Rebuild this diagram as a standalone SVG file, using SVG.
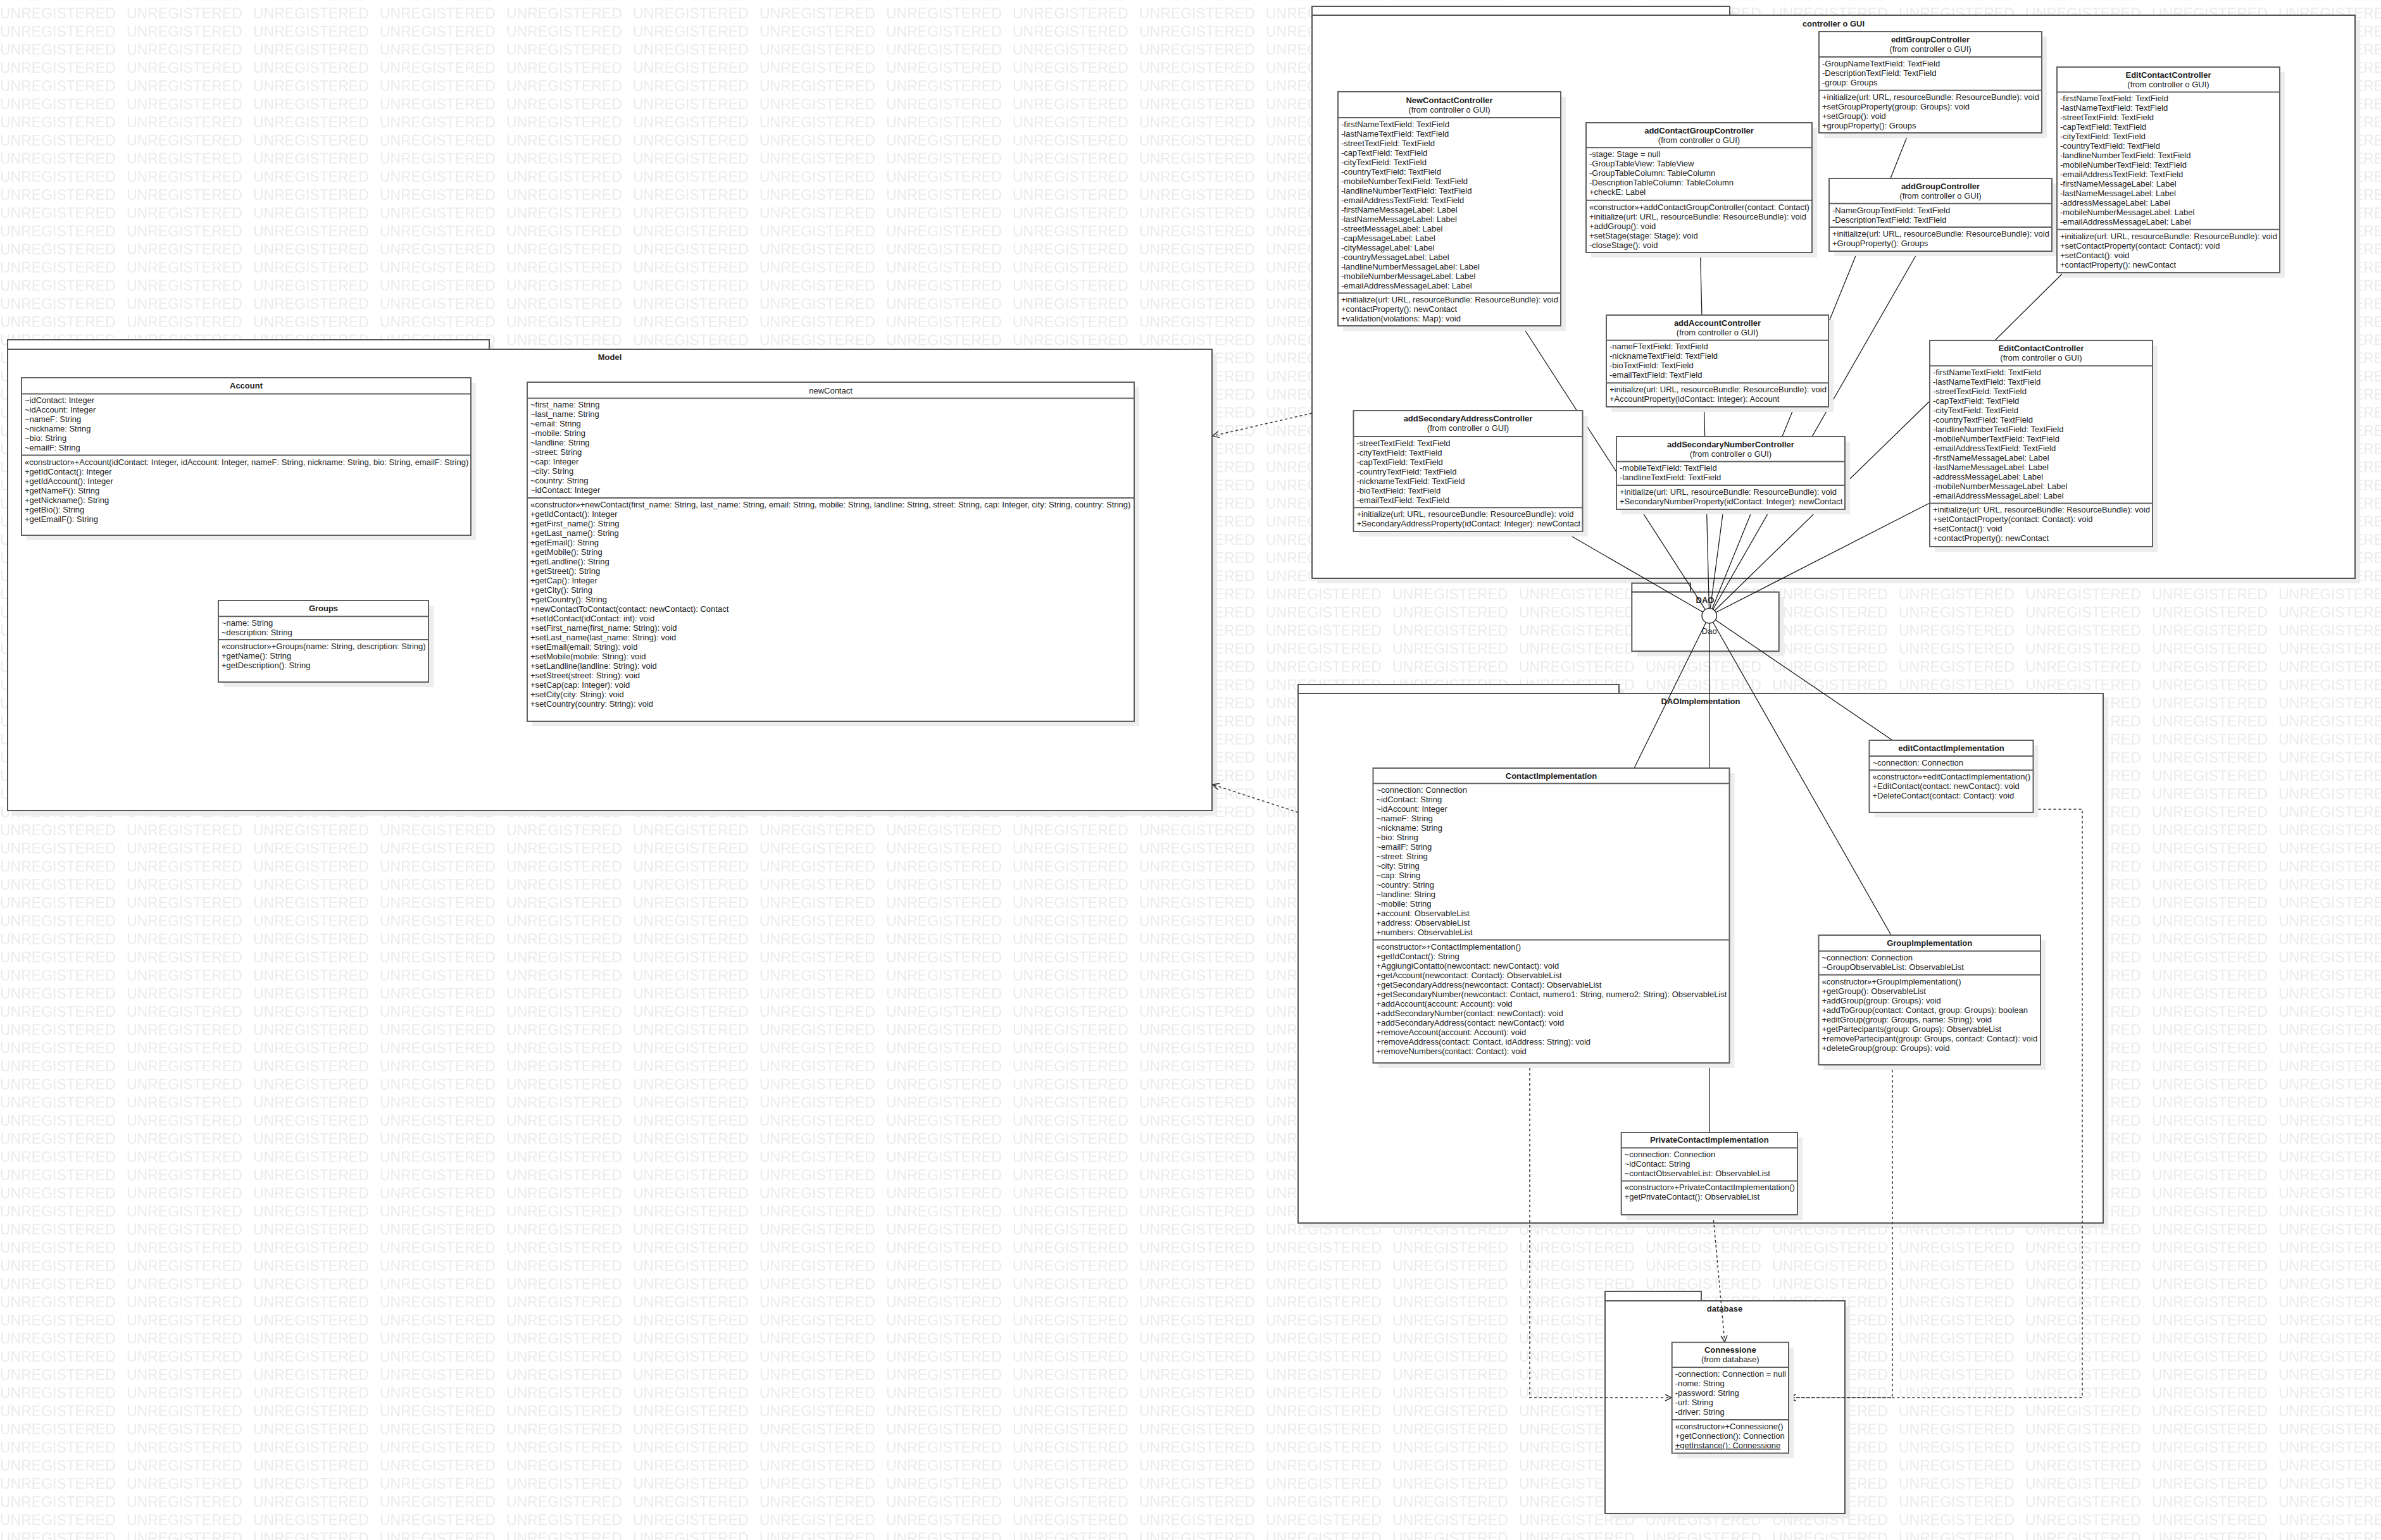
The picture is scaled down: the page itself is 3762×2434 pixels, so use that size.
<svg xmlns="http://www.w3.org/2000/svg" width="3762" height="2434" viewBox="0 0 3762 2434">
<style>
.t{font-family:"Liberation Sans",Arial,sans-serif;font-size:13px;fill:#222}
.b{font-weight:bold}
.c{text-anchor:middle}
.box{fill:#fff;stroke:#606060;stroke-width:2}
.sep{stroke:#606060;stroke-width:2}
.sh{fill:#ededed}
.pk{fill:#fff;stroke:#555;stroke-width:2}
.ln{stroke:#111;stroke-width:1.2;fill:none}
.dep{stroke:#333;stroke-width:1.5;stroke-dasharray:4 4;fill:none;marker-end:url(#open)}
.wm{font-family:"Liberation Sans",Arial,sans-serif;font-size:23px;fill:#ebebeb}
</style>
<defs>
<pattern id="wmark" patternUnits="userSpaceOnUse" x="0" y="5.3" width="200" height="28.69">
<text class="wm" x="0" y="24">UNREGISTERED</text>
</pattern>
<marker id="open" viewBox="0 0 12 12" refX="11" refY="6" markerWidth="12" markerHeight="12" markerUnits="userSpaceOnUse" orient="auto">
<path d="M1,1 L11,6 L1,11" fill="none" stroke="#333" stroke-width="1.5"/>
</marker>
</defs>

<rect width="3762" height="2434" fill="#fff"/>
<rect width="3762" height="2434" fill="url(#wmark)"/>

<!-- packages -->
<g id="pkg-model">
<rect class="sh" x="20" y="545" width="761" height="15"/>
<rect class="sh" x="20" y="560" width="1903" height="729"/>
<rect class="pk" x="12" y="537" width="761" height="15"/>
<rect class="pk" x="12" y="552" width="1903" height="729"/>
<text class="t b c" x="963.5" y="569">Model</text>
</g>
<g id="pkg-controller">
<rect class="sh" x="2081" y="18" width="660" height="14"/>
<rect class="sh" x="2081" y="32" width="1648" height="890"/>
<rect class="pk" x="2073" y="10" width="660" height="14"/>
<rect class="pk" x="2073" y="24" width="1648" height="890"/>
<text class="t b c" x="2897" y="42">controller o GUI</text>
</g>
<g id="pkg-dao">
<rect class="sh" x="2586" y="943.7" width="232.4" height="93.6"/>
<rect class="pk" x="2578.3" y="921.7" width="92.7" height="14"/>
<rect class="pk" x="2578.3" y="935.7" width="232.4" height="93.6"/>
<text class="t b c" x="2694" y="953.3">DAO</text>
</g>
<g id="pkg-daoimpl">
<rect class="sh" x="2059" y="1090" width="507" height="14"/>
<rect class="sh" x="2059" y="1104" width="1272" height="837"/>
<rect class="pk" x="2051" y="1082" width="507" height="14"/>
<rect class="pk" x="2051" y="1096" width="1272" height="837"/>
<text class="t b c" x="2687" y="1113">DAOImplementation</text>
</g>
<g id="pkg-database">
<rect class="sh" x="2544" y="2064" width="379" height="336"/>
<rect class="pk" x="2536" y="2041" width="152" height="15"/>
<rect class="pk" x="2536" y="2056" width="379" height="336"/>
<text class="t b c" x="2725" y="2073.3">database</text>
</g>

<!-- connectors -->
<g id="connectors">
<line class="ln" x1="2405" y1="515" x2="2700.7" y2="973.3"/>
<line class="ln" x1="2470" y1="840" x2="2700.7" y2="973.3"/>
<line class="ln" x1="2686.5" y1="399" x2="2700.7" y2="973.3"/>
<line class="ln" x1="2935" y1="397" x2="2700.7" y2="973.3"/>
<line class="ln" x1="3031" y1="397" x2="2700.7" y2="973.3"/>
<line class="ln" x1="2723" y1="805" x2="2700.7" y2="973.3"/>
<line class="ln" x1="3049" y1="634" x2="2700.7" y2="973.3"/>
<line class="ln" x1="3049" y1="795" x2="2700.7" y2="973.3"/>
<line class="ln" x1="2582" y1="1214" x2="2700.7" y2="973.3"/>
<line class="ln" x1="2701" y1="1790" x2="2701" y2="973.3"/>
<line class="ln" x1="2988" y1="1478" x2="2700.7" y2="973.3"/>
<line class="ln" x1="2990" y1="1170" x2="2700.7" y2="973.3"/>
<line class="ln" x1="3260" y1="431" x2="3152" y2="538"/>
<line class="ln" x1="3015.6" y1="210" x2="2987" y2="282"/>
<path class="dep" d="M2417,1680 V2209 H2641"/>
<path class="dep" d="M2706.7,1920 L2725,2121"/>
<path class="dep" d="M2990,1683 V2209 H2827"/>
<path class="dep" d="M3212.5,1279 H3290 V2209 H2827"/>
<path class="dep" d="M2073,653 L1916,689"/>
<path class="dep" d="M2051,1284 L1916,1240"/>
</g>

<!-- provided interface -->
<g id="Dao">
<circle cx="2700.7" cy="973.3" r="11.7" fill="#fff" stroke="#333" stroke-width="1.5"/>
<text class="t c" x="2700.7" y="1001.7">Dao</text>
</g>

<!-- Model classes -->
<g id="Account">
<rect class="sh" x="42" y="605" width="710" height="249"/>
<rect class="box" x="34" y="597" width="710" height="249"/>
<line class="sep" x1="34" y1="622.5" x2="744" y2="622.5"/>
<line class="sep" x1="34" y1="719.5" x2="744" y2="719.5"/>
<text class="t b c" x="389" y="614">Account</text>
<text class="t"><tspan x="39" y="637">~idContact: Integer</tspan><tspan x="39" dy="15">~idAccount: Integer</tspan><tspan x="39" dy="15">~nameF: String</tspan><tspan x="39" dy="15">~nickname: String</tspan><tspan x="39" dy="15">~bio: String</tspan><tspan x="39" dy="15">~emailF: String</tspan></text>
<text class="t"><tspan x="39" y="734.5">«constructor»+Account(idContact: Integer, idAccount: Integer, nameF: String, nickname: String, bio: String, emailF: String)</tspan><tspan x="39" dy="15">+getIdContact(): Integer</tspan><tspan x="39" dy="15">+getIdAccount(): Integer</tspan><tspan x="39" dy="15">+getNameF(): String</tspan><tspan x="39" dy="15">+getNickname(): String</tspan><tspan x="39" dy="15">+getBio(): String</tspan><tspan x="39" dy="15">+getEmailF(): String</tspan></text>
</g>

<g id="newContact">
<rect class="sh" x="841" y="612" width="959" height="536"/>
<rect class="box" x="833" y="604" width="959" height="536"/>
<line class="sep" x1="833" y1="629.5" x2="1792" y2="629.5"/>
<line class="sep" x1="833" y1="787" x2="1792" y2="787"/>
<text class="t c" x="1312.5" y="622">newContact</text>
<text class="t"><tspan x="838" y="644.2">~first_name: String</tspan><tspan x="838" dy="15">~last_name: String</tspan><tspan x="838" dy="15">~email: String</tspan><tspan x="838" dy="15">~mobile: String</tspan><tspan x="838" dy="15">~landline: String</tspan><tspan x="838" dy="15">~street: String</tspan><tspan x="838" dy="15">~cap: Integer</tspan><tspan x="838" dy="15">~city: String</tspan><tspan x="838" dy="15">~country: String</tspan><tspan x="838" dy="15">~idContact: Integer</tspan></text>
<text class="t"><tspan x="838" y="801.7">«constructor»+newContact(first_name: String, last_name: String, email: String, mobile: String, landline: String, street: String, cap: Integer, city: String, country: String)</tspan><tspan x="838" dy="15">+getIdContact(): Integer</tspan><tspan x="838" dy="15">+getFirst_name(): String</tspan><tspan x="838" dy="15">+getLast_name(): String</tspan><tspan x="838" dy="15">+getEmail(): String</tspan><tspan x="838" dy="15">+getMobile(): String</tspan><tspan x="838" dy="15">+getLandline(): String</tspan><tspan x="838" dy="15">+getStreet(): String</tspan><tspan x="838" dy="15">+getCap(): Integer</tspan><tspan x="838" dy="15">+getCity(): String</tspan><tspan x="838" dy="15">+getCountry(): String</tspan><tspan x="838" dy="15">+newContactToContact(contact: newContact): Contact</tspan><tspan x="838" dy="15">+setIdContact(idContact: int): void</tspan><tspan x="838" dy="15">+setFirst_name(first_name: String): void</tspan><tspan x="838" dy="15">+setLast_name(last_name: String): void</tspan><tspan x="838" dy="15">+setEmail(email: String): void</tspan><tspan x="838" dy="15">+setMobile(mobile: String): void</tspan><tspan x="838" dy="15">+setLandline(landline: String): void</tspan><tspan x="838" dy="15">+setStreet(street: String): void</tspan><tspan x="838" dy="15">+setCap(cap: Integer): void</tspan><tspan x="838" dy="15">+setCity(city: String): void</tspan><tspan x="838" dy="15">+setCountry(country: String): void</tspan></text>
</g>

<g id="Groups">
<rect class="sh" x="353" y="957" width="332" height="129"/>
<rect class="box" x="345" y="949" width="332" height="129"/>
<line class="sep" x1="345" y1="974.3" x2="677" y2="974.3"/>
<line class="sep" x1="345" y1="1011" x2="677" y2="1011"/>
<text class="t b c" x="511" y="966">Groups</text>
<text class="t"><tspan x="350" y="988.5">~name: String</tspan><tspan x="350" dy="15">~description: String</tspan></text>
<text class="t"><tspan x="350" y="1025.7">«constructor»+Groups(name: String, description: String)</tspan><tspan x="350" dy="15">+getName(): String</tspan><tspan x="350" dy="15">+getDescription(): String</tspan></text>
</g>

<!-- controller classes -->
<g id="NewContactController">
<rect class="sh" x="2122" y="153" width="352" height="370"/>
<rect class="box" x="2114" y="145" width="352" height="370"/>
<line class="sep" x1="2114" y1="186" x2="2466" y2="186"/>
<line class="sep" x1="2114" y1="463.3" x2="2466" y2="463.3"/>
<text class="t b c" x="2290" y="162.7">NewContactController</text>
<text class="t c" x="2290" y="177.7">(from controller o GUI)</text>
<text class="t"><tspan x="2119" y="200.7">-firstNameTextField: TextField</tspan><tspan x="2119" dy="15">-lastNameTextField: TextField</tspan><tspan x="2119" dy="15">-streetTextField: TextField</tspan><tspan x="2119" dy="15">-capTextField: TextField</tspan><tspan x="2119" dy="15">-cityTextField: TextField</tspan><tspan x="2119" dy="15">-countryTextField: TextField</tspan><tspan x="2119" dy="15">-mobileNumberTextField: TextField</tspan><tspan x="2119" dy="15">-landlineNumberTextField: TextField</tspan><tspan x="2119" dy="15">-emailAddressTextField: TextField</tspan><tspan x="2119" dy="15">-firstNameMessageLabel: Label</tspan><tspan x="2119" dy="15">-lastNameMessageLabel: Label</tspan><tspan x="2119" dy="15">-streetMessageLabel: Label</tspan><tspan x="2119" dy="15">-capMessageLabel: Label</tspan><tspan x="2119" dy="15">-cityMessageLabel: Label</tspan><tspan x="2119" dy="15">-countryMessageLabel: Label</tspan><tspan x="2119" dy="15">-landlineNumberMessageLabel: Label</tspan><tspan x="2119" dy="15">-mobileNumberMessageLabel: Label</tspan><tspan x="2119" dy="15">-emailAddressMessageLabel: Label</tspan></text>
<text class="t"><tspan x="2119" y="478">+initialize(url: URL, resourceBundle: ResourceBundle): void</tspan><tspan x="2119" dy="15">+contactProperty(): newContact</tspan><tspan x="2119" dy="15">+validation(violations: Map): void</tspan></text>
</g>

<g id="addContactGroupController">
<rect class="sh" x="2514" y="202" width="357" height="205"/>
<rect class="box" x="2506" y="194" width="357" height="205"/>
<line class="sep" x1="2506" y1="233.3" x2="2863" y2="233.3"/>
<line class="sep" x1="2506" y1="316.7" x2="2863" y2="316.7"/>
<text class="t b c" x="2684.5" y="210.7">addContactGroupController</text>
<text class="t c" x="2684.5" y="225.7">(from controller o GUI)</text>
<text class="t"><tspan x="2511" y="248">-stage: Stage = null</tspan><tspan x="2511" dy="15">-GroupTableView: TableView</tspan><tspan x="2511" dy="15">-GroupTableColumn: TableColumn</tspan><tspan x="2511" dy="15">-DescriptionTableColumn: TableColumn</tspan><tspan x="2511" dy="15">+checkE: Label</tspan></text>
<text class="t"><tspan x="2511" y="331.5">«constructor»+addContactGroupController(contact: Contact)</tspan><tspan x="2511" dy="15">+initialize(url: URL, resourceBundle: ResourceBundle): void</tspan><tspan x="2511" dy="15">+addGroup(): void</tspan><tspan x="2511" dy="15">+setStage(stage: Stage): void</tspan><tspan x="2511" dy="15">-closeStage(): void</tspan></text>
</g>

<g id="editGroupController">
<rect class="sh" x="2882" y="58" width="352" height="160"/>
<rect class="box" x="2874" y="50" width="352" height="160"/>
<line class="sep" x1="2874" y1="90" x2="3226" y2="90"/>
<line class="sep" x1="2874" y1="142.7" x2="3226" y2="142.7"/>
<text class="t b c" x="3050" y="66.7">editGroupController</text>
<text class="t c" x="3050" y="81.7">(from controller o GUI)</text>
<text class="t"><tspan x="2879" y="105">-GroupNameTextField: TextField</tspan><tspan x="2879" dy="15">-DescriptionTextField: TextField</tspan><tspan x="2879" dy="15">-group: Groups</tspan></text>
<text class="t"><tspan x="2879" y="157.5">+initialize(url: URL, resourceBundle: ResourceBundle): void</tspan><tspan x="2879" dy="15">+setGroupProperty(group: Groups): void</tspan><tspan x="2879" dy="15">+setGroup(): void</tspan><tspan x="2879" dy="15">+groupProperty(): Groups</tspan></text>
</g>

<g id="addGroupController">
<rect class="sh" x="2898" y="290" width="352" height="115"/>
<rect class="box" x="2890" y="282" width="352" height="115"/>
<line class="sep" x1="2890" y1="321.7" x2="3242" y2="321.7"/>
<line class="sep" x1="2890" y1="359" x2="3242" y2="359"/>
<text class="t b c" x="3066" y="299">addGroupController</text>
<text class="t c" x="3066" y="314">(from controller o GUI)</text>
<text class="t"><tspan x="2895" y="336.5">-NameGroupTextField: TextField</tspan><tspan x="2895" dy="15">-DescriptionTextField: TextField</tspan></text>
<text class="t"><tspan x="2895" y="374">+initialize(url: URL, resourceBundle: ResourceBundle): void</tspan><tspan x="2895" dy="15">+GroupProperty(): Groups</tspan></text>
</g>

<g id="EditContactController">
<rect class="sh" x="3258" y="114" width="352" height="325"/>
<rect class="box" x="3250" y="106" width="352" height="325"/>
<line class="sep" x1="3250" y1="145.4" x2="3602" y2="145.4"/>
<line class="sep" x1="3250" y1="362.7" x2="3602" y2="362.7"/>
<text class="t b c" x="3426" y="123">EditContactController</text>
<text class="t c" x="3426" y="138">(from controller o GUI)</text>
<text class="t"><tspan x="3255" y="160.1">-firstNameTextField: TextField</tspan><tspan x="3255" dy="15">-lastNameTextField: TextField</tspan><tspan x="3255" dy="15">-streetTextField: TextField</tspan><tspan x="3255" dy="15">-capTextField: TextField</tspan><tspan x="3255" dy="15">-cityTextField: TextField</tspan><tspan x="3255" dy="15">-countryTextField: TextField</tspan><tspan x="3255" dy="15">-landlineNumberTextField: TextField</tspan><tspan x="3255" dy="15">-mobileNumberTextField: TextField</tspan><tspan x="3255" dy="15">-emailAddressTextField: TextField</tspan><tspan x="3255" dy="15">-firstNameMessageLabel: Label</tspan><tspan x="3255" dy="15">-lastNameMessageLabel: Label</tspan><tspan x="3255" dy="15">-addressMessageLabel: Label</tspan><tspan x="3255" dy="15">-mobileNumberMessageLabel: Label</tspan><tspan x="3255" dy="15">-emailAddressMessageLabel: Label</tspan></text>
<text class="t"><tspan x="3255" y="377.5">+initialize(url: URL, resourceBundle: ResourceBundle): void</tspan><tspan x="3255" dy="15">+setContactProperty(contact: Contact): void</tspan><tspan x="3255" dy="15">+setContact(): void</tspan><tspan x="3255" dy="15">+contactProperty(): newContact</tspan></text>
</g>

<g id="EditContactController-2">
<rect class="sh" x="3057" y="546" width="352" height="326"/>
<rect class="box" x="3049" y="538" width="352" height="326"/>
<line class="sep" x1="3049" y1="578.2" x2="3401" y2="578.2"/>
<line class="sep" x1="3049" y1="795.5" x2="3401" y2="795.5"/>
<text class="t b c" x="3225" y="555">EditContactController</text>
<text class="t c" x="3225" y="570">(from controller o GUI)</text>
<text class="t"><tspan x="3054" y="592.9">-firstNameTextField: TextField</tspan><tspan x="3054" dy="15">-lastNameTextField: TextField</tspan><tspan x="3054" dy="15">-streetTextField: TextField</tspan><tspan x="3054" dy="15">-capTextField: TextField</tspan><tspan x="3054" dy="15">-cityTextField: TextField</tspan><tspan x="3054" dy="15">-countryTextField: TextField</tspan><tspan x="3054" dy="15">-landlineNumberTextField: TextField</tspan><tspan x="3054" dy="15">-mobileNumberTextField: TextField</tspan><tspan x="3054" dy="15">-emailAddressTextField: TextField</tspan><tspan x="3054" dy="15">-firstNameMessageLabel: Label</tspan><tspan x="3054" dy="15">-lastNameMessageLabel: Label</tspan><tspan x="3054" dy="15">-addressMessageLabel: Label</tspan><tspan x="3054" dy="15">-mobileNumberMessageLabel: Label</tspan><tspan x="3054" dy="15">-emailAddressMessageLabel: Label</tspan></text>
<text class="t"><tspan x="3054" y="810.2">+initialize(url: URL, resourceBundle: ResourceBundle): void</tspan><tspan x="3054" dy="15">+setContactProperty(contact: Contact): void</tspan><tspan x="3054" dy="15">+setContact(): void</tspan><tspan x="3054" dy="15">+contactProperty(): newContact</tspan></text>
</g>

<g id="addAccountController">
<rect class="sh" x="2546" y="506" width="351" height="145"/>
<rect class="box" x="2538" y="498" width="351" height="145"/>
<line class="sep" x1="2538" y1="537.7" x2="2889" y2="537.7"/>
<line class="sep" x1="2538" y1="605.3" x2="2889" y2="605.3"/>
<text class="t b c" x="2713.5" y="515">addAccountController</text>
<text class="t c" x="2713.5" y="530">(from controller o GUI)</text>
<text class="t"><tspan x="2543" y="552.4">-nameFTextField: TextField</tspan><tspan x="2543" dy="15">-nicknameTextField: TextField</tspan><tspan x="2543" dy="15">-bioTextField: TextField</tspan><tspan x="2543" dy="15">-emailTextField: TextField</tspan></text>
<text class="t"><tspan x="2543" y="620.2">+initialize(url: URL, resourceBundle: ResourceBundle): void</tspan><tspan x="2543" dy="15">+AccountProperty(idContact: Integer): Account</tspan></text>
</g>

<g id="addSecondaryAddressController">
<rect class="sh" x="2146.5" y="657" width="362" height="191"/>
<rect class="box" x="2138.5" y="649" width="362" height="191"/>
<line class="sep" x1="2138.5" y1="690" x2="2500.5" y2="690"/>
<line class="sep" x1="2138.5" y1="802.3" x2="2500.5" y2="802.3"/>
<text class="t b c" x="2319.5" y="666">addSecondaryAddressController</text>
<text class="t c" x="2319.5" y="681">(from controller o GUI)</text>
<text class="t"><tspan x="2143.5" y="704.7">-streetTextField: TextField</tspan><tspan x="2143.5" dy="15">-cityTextField: TextField</tspan><tspan x="2143.5" dy="15">-capTextField: TextField</tspan><tspan x="2143.5" dy="15">-countryTextField: TextField</tspan><tspan x="2143.5" dy="15">-nicknameTextField: TextField</tspan><tspan x="2143.5" dy="15">-bioTextField: TextField</tspan><tspan x="2143.5" dy="15">-emailTextField: TextField</tspan></text>
<text class="t"><tspan x="2143.5" y="817">+initialize(url: URL, resourceBundle: ResourceBundle): void</tspan><tspan x="2143.5" dy="15">+SecondaryAddressProperty(idContact: Integer): newContact</tspan></text>
</g>

<g id="addSecondaryNumberController">
<rect class="sh" x="2562" y="698" width="361" height="115"/>
<rect class="box" x="2554" y="690" width="361" height="115"/>
<line class="sep" x1="2554" y1="729.5" x2="2915" y2="729.5"/>
<line class="sep" x1="2554" y1="767" x2="2915" y2="767"/>
<text class="t b c" x="2734.5" y="707">addSecondaryNumberController</text>
<text class="t c" x="2734.5" y="722">(from controller o GUI)</text>
<text class="t"><tspan x="2559" y="744.2">-mobileTextField: TextField</tspan><tspan x="2559" dy="15">-landlineTextField: TextField</tspan></text>
<text class="t"><tspan x="2559" y="782">+initialize(url: URL, resourceBundle: ResourceBundle): void</tspan><tspan x="2559" dy="15">+SecondaryNumberProperty(idContact: Integer): newContact</tspan></text>
</g>

<!-- DAO implementation classes -->
<g id="ContactImplementation">
<rect class="sh" x="2177.5" y="1222" width="563" height="466"/>
<rect class="box" x="2169.5" y="1214" width="563" height="466"/>
<line class="sep" x1="2169.5" y1="1238.3" x2="2732.5" y2="1238.3"/>
<line class="sep" x1="2169.5" y1="1485.6" x2="2732.5" y2="1485.6"/>
<text class="t b c" x="2451" y="1230.5">ContactImplementation</text>
<text class="t"><tspan x="2174.5" y="1253">~connection: Connection</tspan><tspan x="2174.5" dy="15">~idContact: String</tspan><tspan x="2174.5" dy="15">~idAccount: Integer</tspan><tspan x="2174.5" dy="15">~nameF: String</tspan><tspan x="2174.5" dy="15">~nickname: String</tspan><tspan x="2174.5" dy="15">~bio: String</tspan><tspan x="2174.5" dy="15">~emailF: String</tspan><tspan x="2174.5" dy="15">~street: String</tspan><tspan x="2174.5" dy="15">~city: String</tspan><tspan x="2174.5" dy="15">~cap: String</tspan><tspan x="2174.5" dy="15">~country: String</tspan><tspan x="2174.5" dy="15">~landline: String</tspan><tspan x="2174.5" dy="15">~mobile: String</tspan><tspan x="2174.5" dy="15">+account: ObservableList</tspan><tspan x="2174.5" dy="15">+address: ObservableList</tspan><tspan x="2174.5" dy="15">+numbers: ObservableList</tspan></text>
<text class="t"><tspan x="2174.5" y="1500.5">«constructor»+ContactImplementation()</tspan><tspan x="2174.5" dy="15">+getIdContact(): String</tspan><tspan x="2174.5" dy="15">+AggiungiContatto(newcontact: newContact): void</tspan><tspan x="2174.5" dy="15">+getAccount(newcontact: Contact): ObservableList</tspan><tspan x="2174.5" dy="15">+getSecondaryAddress(newcontact: Contact): ObservableList</tspan><tspan x="2174.5" dy="15">+getSecondaryNumber(newcontact: Contact, numero1: String, numero2: String): ObservableList</tspan><tspan x="2174.5" dy="15">+addAccount(account: Account): void</tspan><tspan x="2174.5" dy="15">+addSecondaryNumber(contact: newContact): void</tspan><tspan x="2174.5" dy="15">+addSecondaryAddress(contact: newContact): void</tspan><tspan x="2174.5" dy="15">+removeAccount(account: Account): void</tspan><tspan x="2174.5" dy="15">+removeAddress(contact: Contact, idAddress: String): void</tspan><tspan x="2174.5" dy="15">+removeNumbers(contact: Contact): void</tspan></text>
</g>

<g id="editContactImplementation">
<rect class="sh" x="2961.5" y="1178" width="259" height="114"/>
<rect class="box" x="2953.5" y="1170" width="259" height="114"/>
<line class="sep" x1="2953.5" y1="1195" x2="3212.5" y2="1195"/>
<line class="sep" x1="2953.5" y1="1217.3" x2="3212.5" y2="1217.3"/>
<text class="t b c" x="3083" y="1186.5">editContactImplementation</text>
<text class="t"><tspan x="2958.5" y="1209.7">~connection: Connection</tspan></text>
<text class="t"><tspan x="2958.5" y="1232">«constructor»+editContactImplementation()</tspan><tspan x="2958.5" dy="15">+EditContact(contact: newContact): void</tspan><tspan x="2958.5" dy="15">+DeleteContact(contact: Contact): void</tspan></text>
</g>

<g id="GroupImplementation">
<rect class="sh" x="2881.5" y="1486" width="350.5" height="205"/>
<rect class="box" x="2873.5" y="1478" width="350.5" height="205"/>
<line class="sep" x1="2873.5" y1="1503.3" x2="3224" y2="1503.3"/>
<line class="sep" x1="2873.5" y1="1540.7" x2="3224" y2="1540.7"/>
<text class="t b c" x="3048.7" y="1494.5">GroupImplementation</text>
<text class="t"><tspan x="2878.5" y="1518">~connection: Connection</tspan><tspan x="2878.5" dy="15">~GroupObservableList: ObservableList</tspan></text>
<text class="t"><tspan x="2878.5" y="1555.5">«constructor»+GroupImplementation()</tspan><tspan x="2878.5" dy="15">+getGroup(): ObservableList</tspan><tspan x="2878.5" dy="15">+addGroup(group: Groups): void</tspan><tspan x="2878.5" dy="15">+addToGroup(contact: Contact, group: Groups): boolean</tspan><tspan x="2878.5" dy="15">+editGroup(group: Groups, name: String): void</tspan><tspan x="2878.5" dy="15">+getPartecipants(group: Groups): ObservableList</tspan><tspan x="2878.5" dy="15">+removePartecipant(group: Groups, contact: Contact): void</tspan><tspan x="2878.5" dy="15">+deleteGroup(group: Groups): void</tspan></text>
</g>

<g id="PrivateContactImplementation">
<rect class="sh" x="2569.7" y="1798" width="278.3" height="130"/>
<rect class="box" x="2561.7" y="1790" width="278.3" height="130"/>
<line class="sep" x1="2561.7" y1="1814.3" x2="2840" y2="1814.3"/>
<line class="sep" x1="2561.7" y1="1866.6" x2="2840" y2="1866.6"/>
<text class="t b c" x="2700.8" y="1806">PrivateContactImplementation</text>
<text class="t"><tspan x="2566.7" y="1829">~connection: Connection</tspan><tspan x="2566.7" dy="15">~idContact: String</tspan><tspan x="2566.7" dy="15">~contactObservableList: ObservableList</tspan></text>
<text class="t"><tspan x="2566.7" y="1881.3">«constructor»+PrivateContactImplementation()</tspan><tspan x="2566.7" dy="15">+getPrivateContact(): ObservableList</tspan></text>
</g>

<!-- database classes -->
<g id="Connessione">
<rect class="sh" x="2649.7" y="2129.7" width="184.3" height="175"/>
<rect class="box" x="2641.7" y="2121.7" width="184.3" height="175"/>
<line class="sep" x1="2641.7" y1="2161" x2="2826" y2="2161"/>
<line class="sep" x1="2641.7" y1="2244" x2="2826" y2="2244"/>
<text class="t b c" x="2733.8" y="2138.3">Connessione</text>
<text class="t c" x="2733.8" y="2153.3">(from database)</text>
<text class="t"><tspan x="2646.7" y="2175.7">-connection: Connection = null</tspan><tspan x="2646.7" dy="15">-nome: String</tspan><tspan x="2646.7" dy="15">-password: String</tspan><tspan x="2646.7" dy="15">-url: String</tspan><tspan x="2646.7" dy="15">-driver: String</tspan></text>
<text class="t"><tspan x="2646.7" y="2258.7">«constructor»+Connessione()</tspan><tspan x="2646.7" dy="15">+getConnection(): Connection</tspan><tspan x="2646.7" dy="15" text-decoration="underline">+getInstance(): Connessione</tspan></text>
</g>
</svg>
